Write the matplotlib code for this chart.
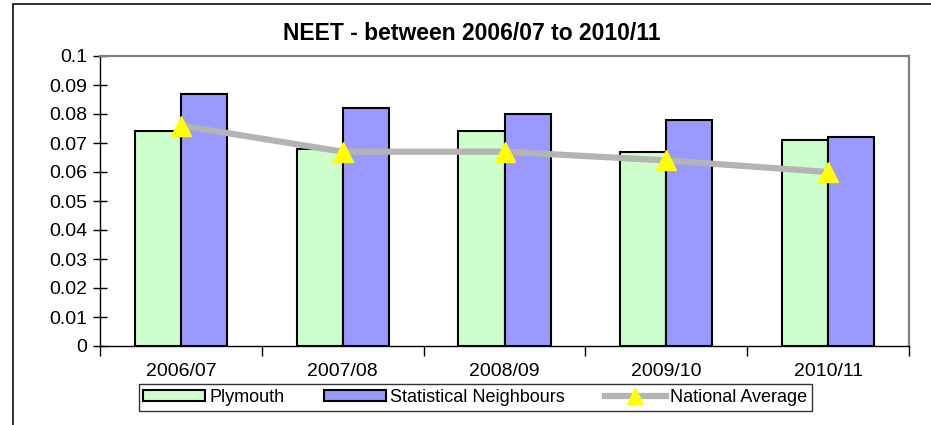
import matplotlib
matplotlib.use('Agg')
import matplotlib.pyplot as plt
from matplotlib.patches import Rectangle
import numpy as np

# Data
years = ['2006/07', '2007/08', '2008/09', '2009/10', '2010/11']
plymouth = [0.074, 0.068, 0.074, 0.067, 0.071]
stat_neighbours = [0.087, 0.082, 0.080, 0.078, 0.072]
national_avg = [0.076, 0.067, 0.067, 0.064, 0.060]
yticks = [0, 0.01, 0.02, 0.03, 0.04, 0.05, 0.06, 0.07, 0.08, 0.09, 0.1]
ytick_labels = ['0', '0.01', '0.02', '0.03', '0.04', '0.05', '0.06', '0.07', '0.08', '0.09', '0.1']

plt.rcParams['font.family'] = ['Liberation Sans', 'DejaVu Sans']

W, H = 931, 425
fig = plt.figure(figsize=(W / 100, H / 100), dpi=100)

# outer chart border (right/bottom run off the image)
fig.patches.append(Rectangle((13 / W, -0.1), 1.2, 1 - 4 / H + 0.1, transform=fig.transFigure,
                             fill=False, edgecolor='#202020', linewidth=1.3))

ax = fig.add_axes([100 / W, (H - 346) / H, 809 / W, 290 / H])

x = np.arange(len(years))
bw = 0.285
b1 = ax.bar(x - bw / 2, plymouth, bw, color='#CCFFCC', edgecolor='black', linewidth=1.5,
            label='Plymouth', zorder=2)
b2 = ax.bar(x + bw / 2, stat_neighbours, bw, color='#9999FF', edgecolor='black', linewidth=1.5,
            label='Statistical Neighbours', zorder=2)
ln, = ax.plot(x, national_avg, color='#B4B4B4', linewidth=4.5, marker='^', markersize=15,
              markerfacecolor='#FFFF00', markeredgecolor='#FFFF00', label='National Average', zorder=3)

ax.set_xlim(-0.5, len(years) - 0.5)
ax.set_ylim(0, 0.1)
ax.set_yticks(yticks)
ax.set_yticklabels(ytick_labels, fontsize=14)
ax.tick_params(axis='y', direction='inout', length=10, width=1, pad=4)

ax.set_xticks(x)
ax.set_xticklabels(years, fontsize=14)
ax.tick_params(axis='x', which='major', length=0, pad=12)
ax.set_xticks(np.arange(len(years) + 1) - 0.5, minor=True)
ax.tick_params(axis='x', which='minor', direction='out', length=7, width=1)

for s in ['left', 'bottom']:
    ax.spines[s].set_color('black')
    ax.spines[s].set_linewidth(1)
for s in ['top', 'right']:
    ax.spines[s].set_color('#808080')
    ax.spines[s].set_linewidth(1.6)

fig.text(471.5 / W, 1 - 33.5 / H, 'NEET - between 2006/07 to 2010/11', ha='center', va='center',
         fontsize=16.5, fontweight='bold')

leg = fig.legend([b1, b2, ln], ['Plymouth', 'Statistical Neighbours', 'National Average'],
                 loc='center', bbox_to_anchor=(475.5 / W, 1 - 397.5 / H), ncol=3, fontsize=13,
                 frameon=True, fancybox=False, borderpad=0.25, handlelength=3.4,
                 handleheight=0.6, handletextpad=0.25, columnspacing=2.2, borderaxespad=0,
                 markerscale=0.75)
leg.get_frame().set_edgecolor('black')
leg.get_frame().set_linewidth(1)

fig.savefig('out.png', dpi=100)
